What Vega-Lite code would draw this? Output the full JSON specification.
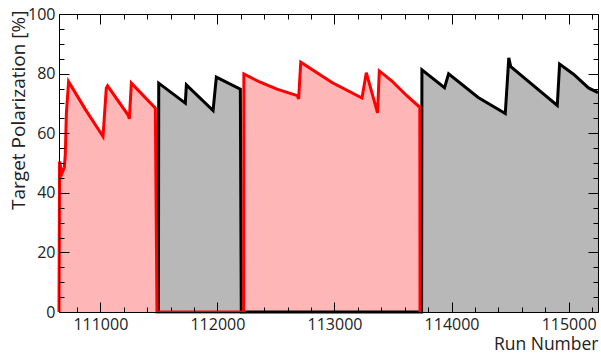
{
  "$schema": "https://vega.github.io/schema/vega-lite/v6.json",
  "width": 539,
  "height": 298,
  "autosize": "none",
  "padding": {"left": 59, "top": 14, "right": 3, "bottom": 41},
  "background": "white",
  "config": {
    "view": {"stroke": null},
    "axis": {"labelFont": "Open Sans", "titleFont": "Open Sans", "grid": false}
  },
  "datasets": {
    "polarization": [
      {"run": 110647, "pol": 0, "state": "A"},
      {"run": 110652, "pol": 50.5, "state": "A"},
      {"run": 110673, "pol": 46.6, "state": "A"},
      {"run": 110693, "pol": 48.5, "state": "A"},
      {"run": 110701, "pol": 53.0, "state": "A"},
      {"run": 110710, "pol": 66.7, "state": "A"},
      {"run": 110729, "pol": 77.3, "state": "A"},
      {"run": 110872, "pol": 68.0, "state": "A"},
      {"run": 111023, "pol": 58.9, "state": "A"},
      {"run": 111051, "pol": 75.1, "state": "A"},
      {"run": 111062, "pol": 75.9, "state": "A"},
      {"run": 111237, "pol": 66.1, "state": "A"},
      {"run": 111248, "pol": 64.8, "state": "A"},
      {"run": 111265, "pol": 76.8, "state": "A"},
      {"run": 111470, "pol": 68.4, "state": "A"},
      {"run": 111484, "pol": 0, "state": "A"},
      {"run": 112224, "pol": 0, "state": "A"},
      {"run": 112226, "pol": 79.9, "state": "A"},
      {"run": 112366, "pol": 77.1, "state": "A"},
      {"run": 112509, "pol": 74.8, "state": "A"},
      {"run": 112683, "pol": 72.6, "state": "A"},
      {"run": 112694, "pol": 71.5, "state": "A"},
      {"run": 112712, "pol": 83.8, "state": "A"},
      {"run": 112979, "pol": 77.0, "state": "A"},
      {"run": 113235, "pol": 71.8, "state": "A"},
      {"run": 113272, "pol": 80.3, "state": "A"},
      {"run": 113368, "pol": 66.8, "state": "A"},
      {"run": 113383, "pol": 80.9, "state": "A"},
      {"run": 113491, "pol": 77.5, "state": "A"},
      {"run": 113620, "pol": 72.5, "state": "A"},
      {"run": 113729, "pol": 68.7, "state": "A"},
      {"run": 113731, "pol": 0, "state": "A"},
      {"run": 111496, "pol": 0, "state": "B"},
      {"run": 111499, "pol": 76.8, "state": "B"},
      {"run": 111726, "pol": 70.1, "state": "B"},
      {"run": 111735, "pol": 76.2, "state": "B"},
      {"run": 111963, "pol": 67.6, "state": "B"},
      {"run": 111991, "pol": 78.8, "state": "B"},
      {"run": 112196, "pol": 74.8, "state": "B"},
      {"run": 112204, "pol": 0, "state": "B"},
      {"run": 113744, "pol": 0, "state": "B"},
      {"run": 113747, "pol": 81.3, "state": "B"},
      {"run": 113940, "pol": 75.3, "state": "B"},
      {"run": 113975, "pol": 79.9, "state": "B"},
      {"run": 114228, "pol": 72.0, "state": "B"},
      {"run": 114459, "pol": 66.6, "state": "B"},
      {"run": 114489, "pol": 85.3, "state": "B"},
      {"run": 114506, "pol": 82.3, "state": "B"},
      {"run": 114903, "pol": 69.3, "state": "B"},
      {"run": 114923, "pol": 83.2, "state": "B"},
      {"run": 115042, "pol": 79.8, "state": "B"},
      {"run": 115170, "pol": 75.2, "state": "B"},
      {"run": 115251, "pol": 73.6, "state": "B"}
    ]
  },
  "data": {"name": "polarization"},
  "layer": [
    {
      "encoding": {
        "x": {
          "field": "run",
          "type": "quantitative",
          "scale": {"domain": [110647, 115251], "nice": false, "zero": false},
          "axis": {
            "orient": "bottom",
            "values": [110800, 111000, 111200, 111400, 111600, 111800, 112000, 112200, 112400, 112600, 112800, 113000, 113200, 113400, 113600, 113800, 114000, 114200, 114400, 114600, 114800, 115000, 115200],
            "format": "d",
            "labelExpr": "datum.value % 1000 === 0 ? datum.label : ''",
            "labelOverlap": false,
            "labelFlush": false,
            "labelFontSize": 16,
            "labelColor": "#222",
            "labelPadding": 14,
            "tickSize": {"condition": {"test": "datum.value % 1000 === 0", "value": -10}, "value": -5},
            "tickColor": "black",
            "domainColor": "black",
            "title": "Run Number",
            "titleFontSize": 17.5,
            "titleFontWeight": "normal",
            "titleColor": "#222",
            "titleAlign": "right",
            "titleBaseline": "alphabetic",
            "titleX": 539,
            "titleY": 37,
            "zindex": 1
          }
        },
        "y": {
          "field": "pol",
          "type": "quantitative",
          "scale": {"domain": [0, 100], "nice": false},
          "axis": {
            "orient": "left",
            "values": [0, 5, 10, 15, 20, 25, 30, 35, 40, 45, 50, 55, 60, 65, 70, 75, 80, 85, 90, 95, 100],
            "labelExpr": "datum.value % 20 === 0 ? datum.label : ''",
            "labelOverlap": false,
            "labelFlush": false,
            "labelFontSize": 16,
            "labelColor": "#222",
            "labelPadding": 14,
            "tickSize": {"condition": {"test": "datum.value % 20 === 0", "value": -10}, "value": -5},
            "tickColor": "black",
            "domainColor": "black",
            "title": "Target Polarization [%]",
            "titleFontSize": 19,
            "titleFontWeight": "normal",
            "titleColor": "#222",
            "titleAngle": -90,
            "titleAlign": "right",
            "titleBaseline": "alphabetic",
            "titleX": -35,
            "titleY": -4,
            "zindex": 1
          }
        }
      },
      "layer": [
        {
          "transform": [{"filter": "datum.state === 'B'"}],
          "mark": {"type": "area", "color": "#b8b8b8", "opacity": 1, "clip": true}
        },
        {
          "transform": [{"filter": "datum.state === 'A'"}],
          "mark": {"type": "area", "color": "#ffb6b6", "opacity": 1, "clip": true}
        },
        {
          "transform": [{"filter": "datum.state === 'B'"}],
          "mark": {"type": "line", "color": "black", "strokeWidth": 3, "clip": false}
        },
        {
          "transform": [{"filter": "datum.state === 'A'"}],
          "mark": {"type": "line", "color": "#ff0000", "strokeWidth": 3, "clip": false}
        }
      ]
    },
    {
      "mark": {"type": "point", "opacity": 0},
      "encoding": {
        "x": {
          "field": "run",
          "type": "quantitative",
          "scale": {"domain": [110647, 115251], "nice": false, "zero": false},
          "axis": {
            "orient": "top",
            "values": [110800, 111000, 111200, 111400, 111600, 111800, 112000, 112200, 112400, 112600, 112800, 113000, 113200, 113400, 113600, 113800, 114000, 114200, 114400, 114600, 114800, 115000, 115200],
            "labels": false,
            "title": null,
            "tickSize": {"condition": {"test": "datum.value % 1000 === 0", "value": -10}, "value": -5},
            "tickColor": "black",
            "domainColor": "black",
            "zindex": 1
          }
        },
        "y": {
          "field": "pol",
          "type": "quantitative",
          "scale": {"domain": [0, 100], "nice": false},
          "axis": {
            "orient": "right",
            "values": [0, 5, 10, 15, 20, 25, 30, 35, 40, 45, 50, 55, 60, 65, 70, 75, 80, 85, 90, 95, 100],
            "labels": false,
            "title": null,
            "tickSize": {"condition": {"test": "datum.value % 20 === 0", "value": -10}, "value": -5},
            "tickColor": "black",
            "domainColor": "black",
            "zindex": 1
          }
        }
      }
    }
  ],
  "resolve": {"axis": {"x": "independent", "y": "independent"}}
}
